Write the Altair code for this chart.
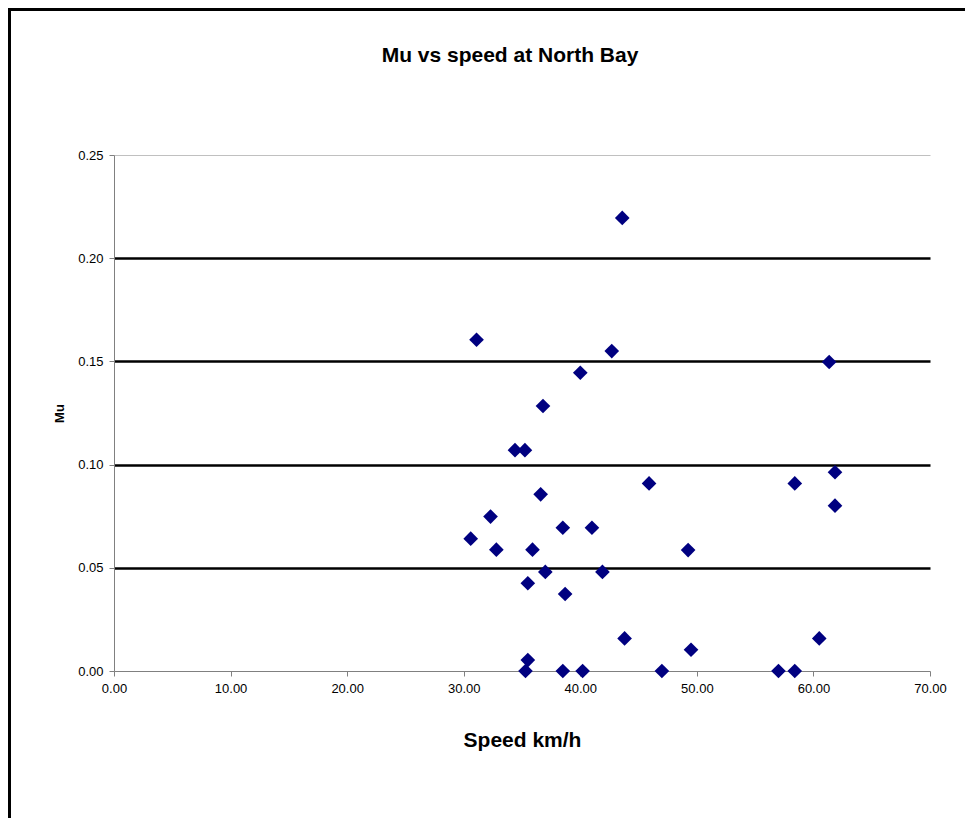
import altair as alt
import pandas as pd

# Data
speed = [43.6, 31.1, 42.7, 40.0, 61.35, 36.8, 34.4, 35.25, 61.85, 45.9, 58.4, 36.6,
         61.85, 32.3, 38.5, 41.0, 30.6, 32.8, 35.9, 49.25, 37.0, 41.9, 35.5, 38.7,
         43.8, 60.5, 49.5, 35.5, 35.3, 38.5, 40.2, 47.0, 57.0, 58.4]
mu = [0.2195, 0.1605, 0.155, 0.1445, 0.1497, 0.1284, 0.107, 0.107, 0.0963, 0.0909, 0.0909, 0.0856,
      0.0801, 0.0748, 0.0694, 0.0694, 0.0641, 0.0588, 0.0588, 0.0586, 0.048, 0.048, 0.0425, 0.0373,
      0.0158, 0.0158, 0.0103, 0.0053, 0.0, 0.0, 0.0, 0.0, 0.0, 0.0]
x_ticks = [0, 10, 20, 30, 40, 50, 60, 70]
y_ticks = [0.0, 0.05, 0.10, 0.15, 0.20, 0.25]
chart_title = "Mu vs speed at North Bay"

df = pd.DataFrame({"speed": speed, "mu": mu})
FONT = "Liberation Sans"

points = alt.Chart(df).mark_point(
    shape="diamond", filled=True, size=215, color="#000080", opacity=1
).encode(
    x=alt.X("speed:Q",
            scale=alt.Scale(domain=[0, 70], nice=False, zero=False),
            axis=alt.Axis(values=x_ticks, format=".2f", title="Speed km/h",
                          grid=False, domainColor="#808080", tickColor="#808080",
                          tickSize=5, labelFont=FONT, labelFontSize=13, labelColor="black",
                          labelFlush=False, labelOverlap=False,
                          labelPadding=6, titleFont=FONT, titleFontSize=21, titleFontWeight="bold",
                          titleColor="black", titleX=408, titleY=75, titleBaseline="alphabetic")),
    y=alt.Y("mu:Q",
            scale=alt.Scale(domain=[0, 0.25], nice=False, zero=False),
            axis=alt.Axis(values=y_ticks, format=".2f", title="Mu",
                          grid=True,
                          gridColor=alt.condition("datum.value > 0.24", alt.value("#c0c0c0"), alt.value("black")),
                          gridWidth=alt.condition("datum.value > 0.24", alt.value(1), alt.value(2.5)),
                          gridOpacity=alt.condition("datum.value < 0.01", alt.value(0), alt.value(1)),
                          domainColor="#808080", tickColor="#808080",
                          tickSize=5, labelFont=FONT, labelFontSize=13, labelColor="black",
                          labelFlush=False, labelOverlap=False,
                          labelPadding=6, titleFont=FONT, titleFontSize=13, titleFontWeight="bold",
                          titleColor="black", titleAngle=270, titleX=-55, titleY=258,
                          titleBaseline="middle", titleAlign="center")),
)

one = pd.DataFrame({"a": [0]})
frame_left = alt.Chart(one).mark_rule(color="black", strokeWidth=3).encode(
    x=alt.value(-104.5), y=alt.value(-147), y2=alt.value(663)
)
frame_top = alt.Chart(one).mark_rule(color="black", strokeWidth=3).encode(
    x=alt.value(-106), x2=alt.value(851), y=alt.value(-145.5)
)
title_mark = alt.Chart(one).mark_text(
    font=FONT, fontSize=21, fontWeight="bold", color="black",
    align="center", baseline="alphabetic"
).encode(
    x=alt.value(396), y=alt.value(-93), text=alt.value(chart_title)
)

chart = alt.layer(frame_left, frame_top, title_mark, points).properties(
    width=816, height=516,
    autosize=alt.AutoSizeParams(type="none"),
    padding={"left": 106, "top": 147, "right": 35, "bottom": 147},
).configure_view(stroke="transparent")

chart.save("out.html", embed_options={"renderer": "svg", "actions": False})
